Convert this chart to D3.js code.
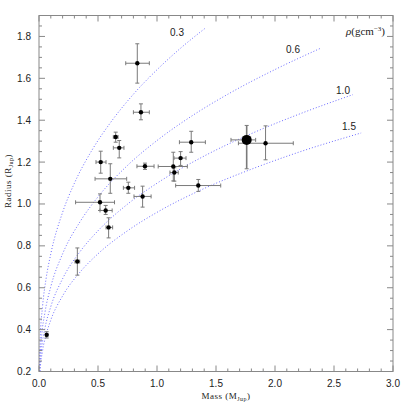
<!DOCTYPE html>
<html>
<head>
<meta charset="utf-8">
<script src="https://cdn.jsdelivr.net/npm/d3@7"></script>
<style>
  body { margin: 0; background: #fff; }
  .tick-label { font-family: "Liberation Sans", Arial, sans-serif; font-size: 10px; fill: #222; }
  .axis-title { font-family: "Liberation Serif", "DejaVu Serif", serif; font-size: 9px; fill: #222; letter-spacing: 0.5px; }
</style>
</head>
<body>
<svg id="chart" width="409" height="409"></svg>
<script>
// planets: mass (M_Jup) and radius (R_Jup) with error bounds
const mass    = [0.065, 0.325, 0.65, 0.68, 0.523, 0.604, 0.757, 0.517, 0.565, 0.59, 1.29, 0.898, 1.2, 1.138, 1.147, 1.35, 0.878, 1.76, 0.833, 0.864, 1.92]
const massLo  = [0.055, 0.305, 0.63, 0.63, 0.483, 0.475, 0.715, 0.31, 0.517, 0.568, 1.19, 0.83, 1.144, 1.01, 1.11, 1.158, 0.805, 1.627, 0.735, 0.8, 1.69]
const massHi  = [0.075, 0.345, 0.67, 0.72, 0.568, 0.743, 0.81, 0.64, 0.62, 0.624, 1.41, 0.975, 1.246, 1.257, 1.18, 1.54, 0.95, 1.836, 0.935, 0.935, 2.155]
const radius  = [0.375, 0.725, 1.32, 1.268, 1.2, 1.12, 1.077, 1.008, 0.969, 0.888, 1.295, 1.18, 1.219, 1.179, 1.15, 1.088, 1.036, 1.306, 1.672, 1.438, 1.29]
const radLo   = [0.36, 0.66, 1.295, 1.22, 1.147, 1.051, 1.051, 0.969, 0.95, 0.838, 1.247, 1.165, 1.184, 1.11, 1.109, 1.06, 0.985, 1.168, 1.577, 1.402, 1.211]
const radHi   = [0.39, 0.79, 1.343, 1.303, 1.252, 1.192, 1.104, 1.048, 0.993, 0.934, 1.347, 1.195, 1.25, 1.247, 1.173, 1.117, 1.085, 1.375, 1.765, 1.478, 1.373]
const bigIndex = 17

// iso-density curves
const densityLabels = ['0.3', '0.6', '1.0', '1.5']
const curveMass = [
  [0.002, 0.01, 0.03, 0.06, 0.1, 0.2, 0.3, 0.45, 0.6, 0.8, 1.0, 1.2, 1.415],
  [0.004, 0.02, 0.05, 0.1, 0.2, 0.35, 0.5, 0.75, 1.0, 1.3, 1.6, 2.0, 2.38],
  [0.006, 0.02, 0.05, 0.1, 0.2, 0.35, 0.5, 0.75, 1.0, 1.4, 1.8, 2.2, 2.66],
  [0.009, 0.03, 0.06, 0.1, 0.2, 0.35, 0.5, 0.75, 1.0, 1.4, 1.8, 2.2, 2.73]
]
const curveRadius = [
  [0.207, 0.354, 0.51, 0.643, 0.762, 0.96, 1.099, 1.258, 1.384, 1.524, 1.641, 1.744, 1.842],
  [0.207, 0.354, 0.48, 0.605, 0.762, 0.917, 1.034, 1.184, 1.303, 1.422, 1.524, 1.642, 1.742],
  [0.2, 0.298, 0.405, 0.51, 0.643, 0.774, 0.872, 0.999, 1.099, 1.229, 1.336, 1.428, 1.522],
  [0.2, 0.298, 0.375, 0.446, 0.561, 0.676, 0.762, 0.872, 0.96, 1.074, 1.166, 1.247, 1.339]
]
const labelPos = [[177, 36], [293, 53], [343, 94], [349, 130]]

const xTicks = [0, 0.5, 1.0, 1.5, 2.0, 2.5, 3.0]
const yTicks = [0.2, 0.4, 0.6, 0.8, 1.0, 1.2, 1.4, 1.6, 1.8]

const pLeft = 39, pRight = 393, pTop = 15.5, pBottom = 371.5
const svg = d3.select('#chart')

const x = d3.scaleLinear().domain([0, 3]).range([pLeft, pRight])
const y = d3.scaleLinear().domain([0.2, 1.9]).range([pBottom, pTop])

svg.append('clipPath').attr('id', 'clip')
  .append('rect')
    .attr('x', pLeft).attr('y', pTop)
    .attr('width', pRight - pLeft).attr('height', pBottom - pTop)

// curves
const line = d3.line()
  .x(d => x(d[0]))
  .y(d => y(d[1]))
  .curve(d3.curveMonotoneX)

const curves = svg.append('g').attr('clip-path', 'url(#clip)')
curveMass.forEach((ms, i) => {
  const pts = [[0, 0]].concat(ms.map((m, j) => [m, curveRadius[i][j]]))
  curves.append('path')
    .attr('d', line(pts))
    .attr('fill', 'none')
    .attr('stroke', '#6b6bff')
    .attr('stroke-width', 1)
    .attr('stroke-dasharray', '1,2')
})

svg.selectAll('.dens')
  .data(densityLabels)
  .enter()
  .append('text')
    .attr('class', 'tick-label')
    .attr('x', (d, i) => labelPos[i][0])
    .attr('y', (d, i) => labelPos[i][1])
    .attr('text-anchor', 'middle')
    .text(d => d)

const rho = svg.append('text')
  .attr('class', 'axis-title')
  .attr('x', 385)
  .attr('y', 35)
  .attr('text-anchor', 'end')
  .style('font-size', '11px')
  .style('letter-spacing', '0px')
rho.append('tspan').attr('font-style', 'italic').text('ρ')
rho.append('tspan').text('(gcm')
rho.append('tspan').attr('dy', -4).style('font-size', '7px').text('−3')
rho.append('tspan').attr('dy', 4).text(')')

// frame and ticks
const frame = svg.append('g').attr('stroke', '#888').attr('stroke-width', 1)
frame.append('rect')
  .attr('x', pLeft).attr('y', pTop)
  .attr('width', pRight - pLeft).attr('height', pBottom - pTop)
  .attr('fill', 'none')

const xMinor = d3.range(0, 3.001, 0.1)
const yMinor = d3.range(0.2, 1.901, 0.05)
xMinor.forEach(v => {
  const major = Math.abs(v * 2 - Math.round(v * 2)) < 1e-6
  const len = major ? 6 : 3
  frame.append('line').attr('x1', x(v)).attr('x2', x(v)).attr('y1', pBottom).attr('y2', pBottom - len)
  frame.append('line').attr('x1', x(v)).attr('x2', x(v)).attr('y1', pTop).attr('y2', pTop + len)
})
yMinor.forEach(v => {
  const major = Math.abs(v * 5 - Math.round(v * 5)) < 1e-6
  const len = major ? 6 : 3
  frame.append('line').attr('x1', pLeft).attr('x2', pLeft + len).attr('y1', y(v)).attr('y2', y(v))
  frame.append('line').attr('x1', pRight).attr('x2', pRight - len).attr('y1', y(v)).attr('y2', y(v))
})

svg.selectAll('.xlab')
  .data(xTicks)
  .enter()
  .append('text')
    .attr('class', 'tick-label')
    .attr('x', d => x(d))
    .attr('y', 387)
    .attr('text-anchor', 'middle')
    .text(d => d.toFixed(1))

svg.selectAll('.ylab')
  .data(yTicks)
  .enter()
  .append('text')
    .attr('class', 'tick-label')
    .attr('x', 31)
    .attr('y', d => y(d) + 3.5)
    .attr('text-anchor', 'end')
    .text(d => d.toFixed(1))

// axis titles
const xt = svg.append('text')
  .attr('class', 'axis-title')
  .attr('x', 226)
  .attr('y', 399)
  .attr('text-anchor', 'middle')
xt.append('tspan').text('Mass (M')
xt.append('tspan').attr('dy', 2).style('font-size', '6px').text('Jup')
xt.append('tspan').attr('dy', -2).text(')')

const yt = svg.append('text')
  .attr('class', 'axis-title')
  .attr('transform', 'translate(11,181) rotate(-90)')
  .attr('text-anchor', 'middle')
yt.append('tspan').text('Radius (R')
yt.append('tspan').attr('dy', 2).style('font-size', '6px').text('Jup')
yt.append('tspan').attr('dy', -2).text(')')

// error bars
const cap = 2
const bars = svg.append('g').attr('stroke', '#7a7a7a').attr('stroke-width', 1)
mass.forEach((m, i) => {
  const w = i === bigIndex ? 1.6 : 1
  bars.append('line')
    .attr('x1', x(massLo[i])).attr('x2', x(massHi[i]))
    .attr('y1', y(radius[i])).attr('y2', y(radius[i]))
  bars.append('line')
    .attr('x1', x(m)).attr('x2', x(m))
    .attr('y1', y(radLo[i])).attr('y2', y(radHi[i]))
    .attr('stroke-width', w)
  ;[massLo[i], massHi[i]].forEach(v => {
    bars.append('line')
      .attr('x1', x(v)).attr('x2', x(v))
      .attr('y1', y(radius[i]) - cap).attr('y2', y(radius[i]) + cap)
  })
  ;[radLo[i], radHi[i]].forEach(v => {
    bars.append('line')
      .attr('x1', x(m) - cap).attr('x2', x(m) + cap)
      .attr('y1', y(v)).attr('y2', y(v))
  })
})

svg.selectAll('.pt')
  .data(mass)
  .enter()
  .append('circle')
    .attr('cx', d => x(d))
    .attr('cy', (d, i) => y(radius[i]))
    .attr('r', (d, i) => i === bigIndex ? 5 : 2.2)
    .attr('fill', '#000')
</script>
</body>
</html>
